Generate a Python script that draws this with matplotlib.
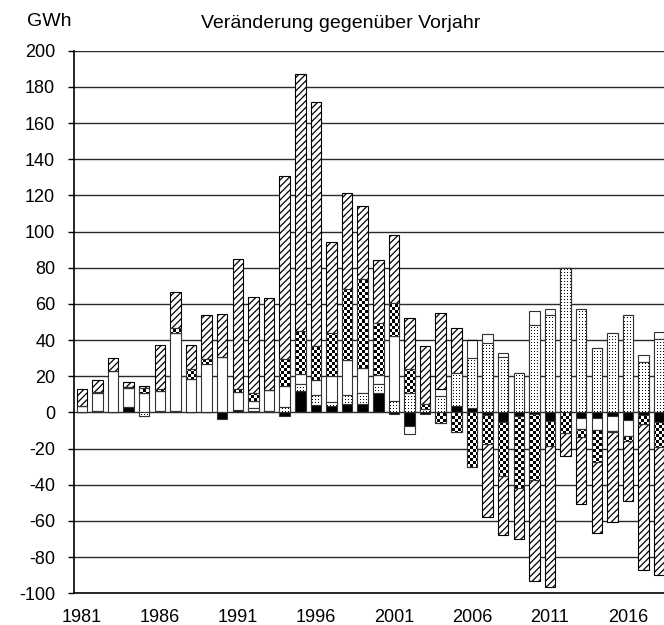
import numpy as np
import matplotlib
matplotlib.use("Agg")
import matplotlib.pyplot as plt
from matplotlib.path import Path
from matplotlib.patches import PathPatch

plt.rcParams["font.family"] = ["Liberation Sans", "DejaVu Sans"]
plt.rcParams["hatch.linewidth"] = 0.9
plt.rcParams["axes.unicode_minus"] = False

years = np.arange(1981, 2019)

# change against previous year, GWh, one array per component (stacking order)
solid = [0.3, 0.8, 0.5, 2.8, 0.5, 0.9, 0.9, 0.5, 0.5, -3.7,
         1.5, 0.9, 0.8, -2.2, 11.9, 4.0, 3.3, 4.6, 4.6, 10.7,
         -1.0, -7.4, -0.6, 0.0, 3.3, 2.2, -1.5, -5.1, -2.0, -1.0,
         -4.6, 0.0, -2.8, -2.8, -1.8, -4.0, -1.5, -5.1]
dotted = [0.0, 0.0, 0.0, 0.0, -2.2, 0.0, 0.0, 0.0, 0.0, 0.0,
          0.0, 1.8, 0.0, 3.0, 3.7, 5.5, 2.6, 5.0, 6.4, 5.0,
          6.4, 11.0, 1.8, 9.2, 18.8, 28.1, 38.2, 30.9, 22.1, 48.2,
          53.9, 80.0, 57.0, 35.5, 43.8, 53.9, 27.9, 40.4]
blank = [3.0, 9.7, 22.5, 10.5, 10.5, 10.7, 43.2, 17.8, 26.5, 30.9,
         9.9, 3.7, 11.6, 11.5, 5.5, 8.5, 14.3, 19.5, 13.8, 5.0,
         35.7, -4.6, 0.0, 3.7, 0.0, 9.7, 5.0, 2.2, 0.0, 7.9,
         3.1, 0.0, -6.4, -7.0, -8.3, -8.8, 3.9, 4.0]
checker = [0.0, 0.8, 0.0, 0.9, 2.8, 1.2, 2.7, 5.5, 2.8, 0.0,
           1.8, 4.6, 0.0, 15.0, 23.9, 18.8, 23.9, 39.3, 49.1, 28.7,
           18.4, 12.9, 2.8, -5.9, -10.7, -30.3, -16.0, -29.8, -39.9, -36.4,
           -13.8, -11.4, -4.6, -17.8, -0.9, -2.8, -5.0, -14.2]
hatched = [9.6, 6.5, 7.0, 2.7, 0.9, 24.5, 19.9, 13.5, 24.1, 23.3,
           71.4, 52.8, 51.0, 101.0, 142.0, 135.1, 50.2, 52.9, 40.4, 34.8,
           37.5, 28.5, 32.2, 42.2, 24.8, 0.0, -40.4, -32.7, -28.3, -56.0,
           -78.1, -12.5, -36.8, -39.0, -49.3, -33.5, -80.8, -70.8]

xlabels = [str(y) for y in years[::5]]

W, H, DPI = 664, 625, 100
fig = plt.figure(figsize=(W / DPI, H / DPI), dpi=DPI)
ax = fig.add_axes([74 / W, 31.7 / H, 593 / W, 542.5 / H])
x0, x1, y0, y1 = 1980.5, 2018.5, -100, 200

# pixel patterns for the checker and dotted fills
ph, pw = 542, 593
yy, xx = np.mgrid[0:ph, 0:pw]
checker_img = ((xx // 3 + yy // 3) % 2).astype(float)
dot_img = 1.0 - ((xx % 3 == 1) & (yy % 3 == 1)).astype(float)

# horizontal grid drawn as plain lines under the bars
for g in range(-80, 201, 20):
    ax.axhline(g, color="#2a2a2a", linewidth=1.0, zorder=1)

width = 0.67
edge = "#333333"
pos = np.zeros(len(years))
neg = np.zeros(len(years))
series = [(solid, "black", None, None),
          (dotted, "white", None, dot_img),
          (blank, "white", None, None),
          (checker, "white", None, checker_img),
          (hatched, "white", "/////", None)]

for vals, face, hatch, pattern in series:
    vals = np.array(vals)
    bottom = np.where(vals >= 0, pos, neg)
    bars = ax.bar(years, vals, width, bottom=bottom, facecolor=face, hatch=hatch,
                  edgecolor="black" if hatch else edge, linewidth=0.8, zorder=4)
    if pattern is not None:
        paths = [b.get_path().transformed(b.get_patch_transform()) for b in bars]
        clip = PathPatch(Path.make_compound_path(*paths), transform=ax.transData,
                         facecolor="none", edgecolor="none")
        ax.add_patch(clip)
        im = ax.imshow(pattern, cmap="gray", vmin=0, vmax=1, origin="lower",
                       extent=(x0, x1, y0, y1), aspect="auto",
                       interpolation="nearest", zorder=5)
        im.set_clip_path(clip)
        ax.bar(years, vals, width, bottom=bottom, fill=False,
               edgecolor=edge, linewidth=0.8, zorder=6)
    pos = pos + np.where(vals > 0, vals, 0)
    neg = neg + np.where(vals < 0, vals, 0)

ax.set_xlim(x0, x1)
ax.set_ylim(y0, y1)
ax.set_yticks(np.arange(-100, 201, 20))
ax.set_xticks(years[::5])
ax.set_xticklabels(xlabels)
ax.tick_params(axis="y", length=4.5, width=1, pad=9, labelsize=13)
ax.tick_params(axis="x", length=0, pad=11, labelsize=13)
for s in ["top", "right"]:
    ax.spines[s].set_visible(False)
ax.spines["left"].set_linewidth(1.2)
ax.spines["bottom"].set_linewidth(1.2)
ax.spines["left"].set_zorder(7)

fig.text(27 / W, 1 - 21 / H, "GWh", fontsize=14, ha="left", va="center")
fig.text(341 / W, 1 - 24 / H, "Veränderung gegenüber Vorjahr", fontsize=14,
         ha="center", va="center")

fig.savefig("out.png", dpi=DPI)
